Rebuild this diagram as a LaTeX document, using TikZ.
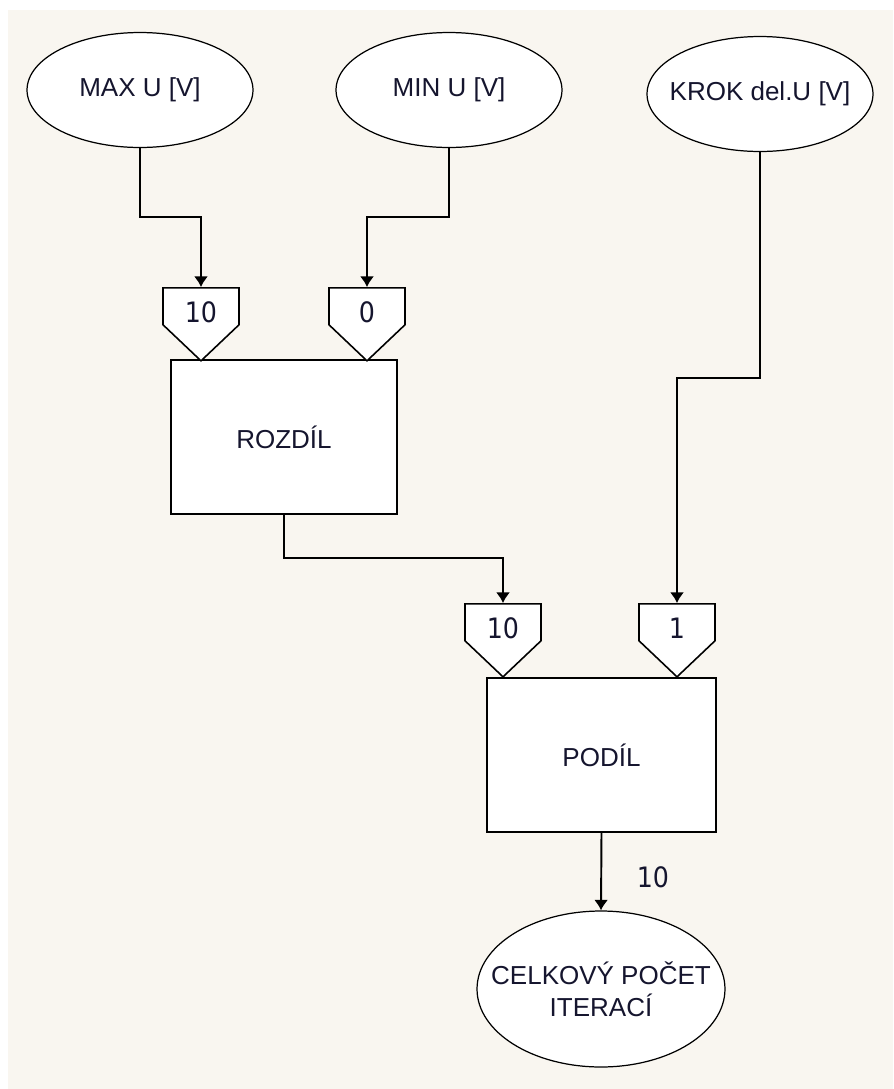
\documentclass[tikz,border=0pt]{standalone}
\usepackage{fontspec}
\setmainfont{Liberation Sans}
\newfontfamily\numfont{DejaVu Sans Condensed}
\usetikzlibrary{shapes.geometric,shapes.symbols,arrows.meta}
\definecolor{paper}{HTML}{F9F6F0}
\definecolor{ink}{HTML}{15152E}
\tikzset{
	inputEllipse/.style={
		ellipse,
		draw,
		fill=white,
		line width=0.7pt,
		inner xsep=-0.5cm,
		inner ysep=0pt,
		minimum width=4.52cm,
		minimum height=2.3cm,
		text=ink,
		font=\fontsize{14.8}{18}\selectfont,
		align=center
	},
	blockBox/.style={
		rectangle,
		draw,
		fill=white,
		line width=1.1pt,
		minimum width=4.55cm,
		minimum height=3.08cm,
		text=ink,
		font=\fontsize{14.8}{18}\selectfont
	},
	inPort/.style={
		signal,
		signal to=south,
		signal pointer angle=93,
		draw,
		fill=white,
		line width=0.9pt,
		inner sep=0pt,
		anchor=north,
		text width=1.52cm,
		align=center,
		text height=0.70cm,
		text depth=0.04cm,
		text=ink,
		font=\numfont\fontsize{16}{18}\selectfont
	},
	numLabel/.style={
		text=ink,
		font=\numfont\fontsize{16}{18}\selectfont
	},
}

\begin{document}
\begin{tikzpicture}[x=0.02cm,y=-0.02cm]
\tikzset{wire/.style={line width=1.1pt,-{Latex[length=6pt,width=8pt]}}}

\useasboundingbox (0,0) rectangle (893,1089);
\fill[white] (0,0) rectangle (893,1089);
\fill[paper] (8,10) rectangle (893,1089);

\node[inputEllipse] (maxU) at (140,90) {MAX U [V]};
\node[inputEllipse] (minU) at (449,90) {MIN U [V]};
\node[inputEllipse] (krokU) at (760,94) {KROK del.U [V]};

	\node[blockBox,minimum width=4.52cm] (rozdil) at (284,437) {ROZDÍL};
		\node[inPort] (inMax) at (201,287) {10};
		\node[inPort] (inMin) at (367,287) {0};

			\node[blockBox,minimum width=4.58cm] (podil) at (601.5,755) {PODÍL};
				\node[inPort] (inRozdil) at (503,603) {10};
				\node[inPort] (inKrok) at (677,603) {1};

				\node[inputEllipse,minimum width=4.96cm,minimum height=3.12cm] (celkovy) at (601,989) {CELKOVÝ POČET\\ITERACÍ};
				\node[numLabel] (vysledek) at (653,877) {10};

\draw[wire] (maxU.south) -- (maxU.south |- 0,217) -| (inMax.north);
\draw[wire] (minU.south) -- (minU.south |- 0,217) -| (inMin.north);
\draw[wire] (krokU.south) -- (krokU.south |- 0,378) -| (inKrok.north);
\draw[wire] (rozdil.south) -- (rozdil.south |- 0,558) -| (inRozdil.north);
\draw[wire] (podil.south) -- (celkovy.north);
\end{tikzpicture}
\end{document}
